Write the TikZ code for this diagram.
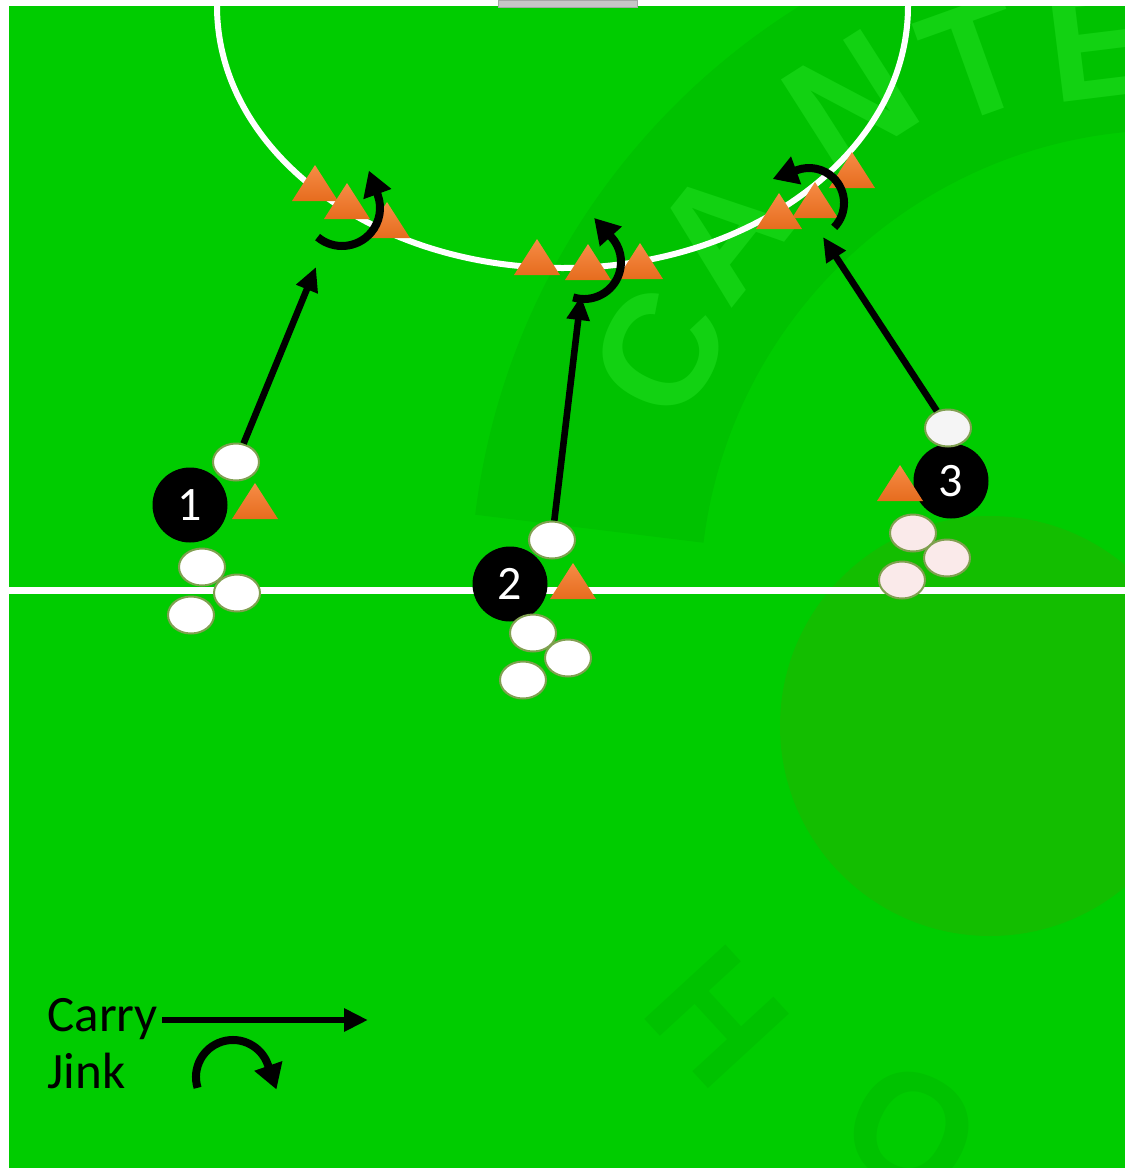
\documentclass[tikz,border=0pt]{standalone}
\usepackage{fontspec}
\setmainfont{Carlito}
\newfontfamily\logofont{Liberation Sans}
\usetikzlibrary{arrows.meta,shapes.geometric}
\definecolor{pitch}{RGB}{0,204,0}
\definecolor{pitchdark}{RGB}{0,194,0}
\definecolor{pitchlight}{RGB}{18,210,18}
\definecolor{logoball}{RGB}{19,190,0}
\definecolor{conetop}{RGB}{246,140,70}
\definecolor{conebot}{RGB}{230,108,30}
\definecolor{ballrim}{RGB}{128,160,80}
\definecolor{pinkball}{RGB}{250,234,234}
\newcommand{\cone}[2]{\shade[top color=conetop,bottom color=conebot] (#1,#2) -- ++(-23,36) -- ++(46,0) -- cycle;}

\begin{document}
\begin{tikzpicture}[x=0.5pt,y=-0.5pt,
  ball/.style={ellipse,draw=ballrim,line width=1pt,fill=white,minimum width=23pt,minimum height=18.5pt,inner sep=0pt},
  player/.style={circle,fill=black,text=white,minimum size=37.5pt,inner sep=0pt,font=\fontsize{24}{24}\selectfont},
  carry/.style={line width=3.3pt,-{Triangle[length=12pt,width=11pt]}},
  jink/.style={line width=4pt,-{Triangle[length=12.5pt,width=14pt]}},
  logoletter/.style={font=\logofont\bfseries\fontsize{80}{80}\selectfont,inner sep=0pt},
  legend/.style={font=\fontsize{25.5}{30}\selectfont,inner sep=0pt,anchor=base west}]
  \fill[white] (0,0) rectangle (1125,1168);
  \useasboundingbox (0,0) rectangle (1125,1168);
  \fill[pitch] (9,6) rectangle (1125,1168);
  \begin{scope}
    \clip (9,6) rectangle (1125,1168);
    \fill[pitchdark] (1170,600) ++(187:700) arc[start angle=187,end angle=275,radius=700]
      -- ++(275:-230) arc[start angle=275,end angle=187,radius=470] -- cycle;
    \node[logoletter,text=pitchlight,rotate=63.7] (lc) at (660,352) {C};
    \node[logoletter,text=pitchlight,rotate=51.5] (la) at (722,232) {A};
    \node[logoletter,text=pitchlight,rotate=32.5] (ln) at (851,101) {N};
    \node[logoletter,text=pitchlight,rotate=19.7] (lt) at (975,60) {T};
    \node[logoletter,text=pitchlight,rotate=7] (le) at (1100,42) {E};
    \node[logoletter,text=pitchdark,rotate=-47.4] (lh) at (717,1017) {H};
    \node[logoletter,text=pitchdark,rotate=-26] (lo) at (912,1130) {O};
    \fill[logoball] (990,726) circle[radius=210];
  \end{scope}
  \fill[gray!45,draw=gray!70] (498,0) rectangle (637,7);
  \draw[white,line width=3pt] (217,6) arc[start angle=180,end angle=0,x radius=345.5,y radius=262];
  \draw[white,line width=3.5pt] (9,590) -- (1125,590);
  \cone{315}{165} \cone{347}{183} \cone{387}{202}
  \cone{537}{239} \cone{588}{244} \cone{640}{243}
  \cone{852}{152} \cone{815}{182} \cone{779}{193}
  \draw[jink] (317.6,237.1) arc[start angle=130,end angle=-20,radius=38] -- ++(-8.9,-24.4);
  \draw[jink] (573.2,297.4) arc[start angle=107,end angle=-42,radius=37] -- ++(-17.4,-19.3);
  \draw[jink] (834.2,227.3) arc[start angle=44,end angle=-110,radius=35] -- ++(-24.4,8.9);
  \node[player] (p1) at (190,505) {1};
  \node[player] (p2) at (510,584) {2};
  \node[player] (p3) at (951,481) {3};
  \cone{255}{483} \cone{573}{563} \cone{900}{465}
  \node[ball] (b1t) at (236,462) {};
  \node[ball] (b1a) at (202,567) {};
  \node[ball] (b1b) at (237,593) {};
  \node[ball] (b1c) at (191,615) {};
  \node[ball] (b2t) at (552,540) {};
  \node[ball] (b2a) at (533,633) {};
  \node[ball] (b2b) at (568,658) {};
  \node[ball] (b2c) at (523,680) {};
  \node[ball,fill=gray!8] (b3t) at (948,428) {};
  \node[ball,fill=pinkball] (b3a) at (913,533) {};
  \node[ball,fill=pinkball] (b3b) at (947,558) {};
  \node[ball,fill=pinkball] (b3c) at (902,580) {};
  \coordinate (c1) at (316,267);
  \coordinate (c2) at (581,296);
  \coordinate (c3) at (823,237);
  \draw[carry] (b1t) -- (c1);
  \draw[carry] (b2t) -- (c2);
  \draw[carry] (b3t) -- (c3);
  \node[legend] (carrytext) at (47,1031) {Carry};
  \node[legend] (jinktext) at (47,1088) {Jink};
  \coordinate (carryend) at (368,1020);
  \draw[carry] ([xshift=2pt]carrytext.east |- carryend) -- (carryend);
  \draw[jink] (197.6,1087.8) arc[start angle=163,end angle=341,radius=37] -- ++(8.5,24.6);
\end{tikzpicture}
\end{document}
